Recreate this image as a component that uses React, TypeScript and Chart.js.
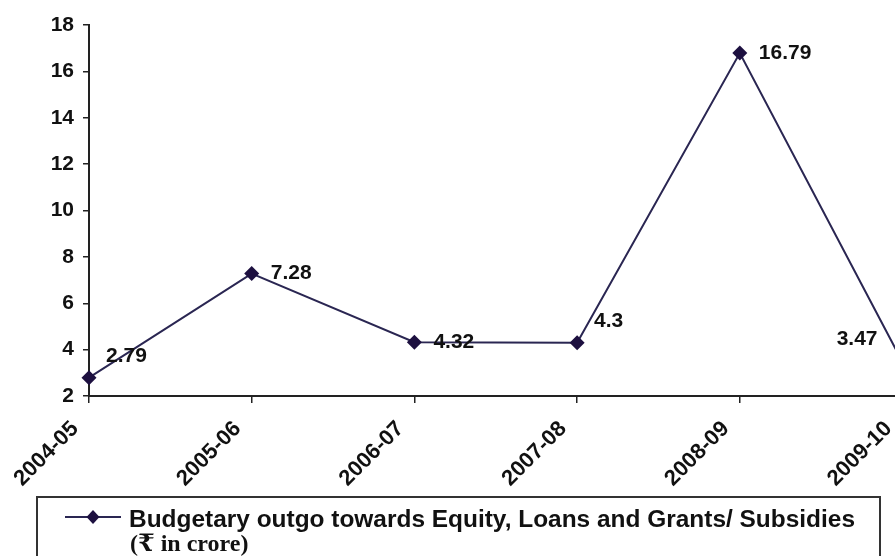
import React, { useEffect, useRef } from "react";
import { Chart, registerables } from "chart.js";

Chart.register(...registerables);

const categories = ["2004-05", "2005-06", "2006-07", "2007-08", "2008-09", "2009-10"];
const outgo = [2.79, 7.28, 4.32, 4.3, 16.79, 3.47];
const labelPlacement = ["upRight", "right", "right", "upRight", "right", "upLeft"];
const yTicks = [2, 4, 6, 8, 10, 12, 14, 16, 18];
const legendLine1 = "Budgetary outgo towards Equity, Loans and Grants/ Subsidies";
const legendLine2 = "(\u20B9 in crore)";

const SANS = '"Liberation Sans", Arial, sans-serif';
const LINE = "#2a2652";
const MARK = "#1d1040";

const dataLabelPlugin = {
  id: "dataLabels",
  afterDatasetsDraw(chart: any) {
    const ctx = chart.ctx;
    const meta = chart.getDatasetMeta(0);
    ctx.save();
    ctx.font = `bold 21px ${SANS}`;
    ctx.fillStyle = "#111";
    ctx.textBaseline = "middle";
    meta.data.forEach((pt: any, i: number) => {
      const txt = String(outgo[i]);
      const p = labelPlacement[i];
      let x = pt.x + 19;
      let y = pt.y;
      ctx.textAlign = "left";
      if (p === "upRight") {
        x = pt.x + 17;
        y = pt.y - 21;
      }
      if (p === "upLeft") {
        ctx.textAlign = "right";
        x = pt.x - 25;
        y = pt.y - 23;
      }
      ctx.fillText(txt, x, y);
    });
    ctx.restore();
  },
};

const legendPlugin = {
  id: "boxLegend",
  afterDraw(chart: any) {
    const ctx = chart.ctx;
    ctx.save();
    ctx.strokeStyle = "#333";
    ctx.lineWidth = 2;
    ctx.strokeRect(37, 497, 843, 90);
    // sample line
    ctx.strokeStyle = LINE;
    ctx.lineWidth = 2;
    ctx.beginPath();
    ctx.moveTo(65, 517);
    ctx.lineTo(121, 517);
    ctx.stroke();
    ctx.fillStyle = MARK;
    ctx.beginPath();
    ctx.moveTo(93, 510);
    ctx.lineTo(99.5, 517);
    ctx.lineTo(93, 524);
    ctx.lineTo(86.5, 517);
    ctx.closePath();
    ctx.fill();
    ctx.fillStyle = "#111";
    ctx.textAlign = "left";
    ctx.textBaseline = "alphabetic";
    ctx.font = `bold 23px ${SANS}`;
    const w1 = ctx.measureText(legendLine1).width;
    const sx = 726 / w1;
    ctx.save();
    ctx.translate(129, 527);
    ctx.scale(sx, 1);
    ctx.fillText(legendLine1, 0, 0);
    ctx.restore();
    ctx.font = 'bold 24px "Liberation Serif", "DejaVu Serif", serif';
    ctx.fillText(legendLine2, 130, 551);
    ctx.restore();
  },
};

export default function App() {
  const ref = useRef<HTMLCanvasElement | null>(null);
  useEffect(() => {
    if (!ref.current) return;
    const chart = new Chart(ref.current, {
      type: "line",
      data: {
        labels: categories,
        datasets: [
          {
            label: legendLine1,
            data: outgo,
            borderColor: LINE,
            borderWidth: 2,
            backgroundColor: MARK,
            pointStyle: "rectRot",
            pointRadius: 7.5,
            pointBackgroundColor: MARK,
            pointBorderColor: MARK,
            pointBorderWidth: 0,
            tension: 0,
            clip: false,
          },
        ],
      },
      options: {
        animation: false,
        responsive: false,
        devicePixelRatio: 1,
        layout: { padding: { top: 25, right: 1, bottom: 0, left: 0 } },
        plugins: { legend: { display: false }, tooltip: { enabled: false } },
        scales: {
          x: {
            offset: false,
            grid: {
              display: true,
              drawOnChartArea: false,
              drawTicks: true,
              tickLength: 7,
              color: "#222",
              lineWidth: 1.5,
            },
            border: { display: true, color: "#222", width: 2 },
            ticks: {
              color: "#111",
              font: { family: SANS, size: 22, weight: "bold" },
              minRotation: 45,
              maxRotation: 45,
              padding: 13,
              labelOffset: -14,
              autoSkip: false,
            },
            afterFit: (s: any) => {
              s.height = 160;
              s.paddingLeft = 0;
              s.paddingRight = 0;
            },
          },
          y: {
            min: 2,
            max: 18,
            afterBuildTicks: (s: any) => {
              s.ticks = yTicks.map((v) => ({ value: v }));
            },
            grid: {
              display: true,
              drawOnChartArea: false,
              drawTicks: true,
              tickLength: 6,
              color: "#222",
              lineWidth: 1.5,
            },
            border: { display: true, color: "#222", width: 2 },
            ticks: {
              color: "#111",
              font: { family: SANS, size: 21, weight: "bold" },
              padding: 9,
            },
            afterFit: (s: any) => {
              s.width = 89;
              s.paddingTop = 0;
              s.paddingBottom = 0;
            },
          },
        },
      },
      plugins: [dataLabelPlugin, legendPlugin],
    });
    return () => chart.destroy();
  }, []);
  return (
    <div
      style={{
        position: "fixed",
        left: 0,
        top: 0,
        width: 895,
        height: 556,
        overflow: "hidden",
        background: "#fff",
      }}
    >
      <canvas ref={ref} width={910} height={556} style={{ display: "block" }} />
    </div>
  );
}
